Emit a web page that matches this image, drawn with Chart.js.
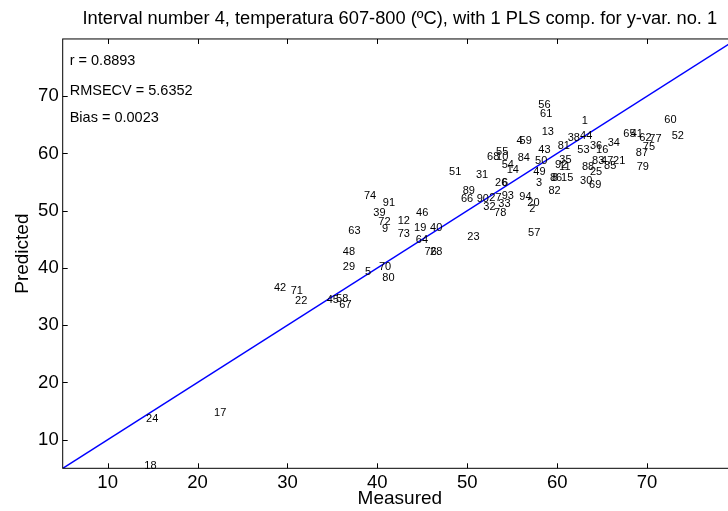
<!DOCTYPE html>
<html><head><meta charset="utf-8">
<script src="https://cdn.jsdelivr.net/npm/chart.js@4.4.1/dist/chart.umd.min.js"></script>
<style>
html,body{margin:0;padding:0;overflow:hidden;background:#fff;width:728px;height:511px}
#wrap{position:absolute;left:0;top:0;width:746px;height:511px}
</style></head><body>
<div id="wrap"><canvas id="c" width="746" height="511"></canvas></div>
<script>
const titleText = "Interval number 4, temperatura 607-800 (ºC), with 1 PLS comp. for y-var. no. 1";
const xLabel = "Measured";
const yLabel = "Predicted";
const statsText = ["r = 0.8893", "RMSECV = 5.6352", "Bias = 0.0023"];
const xTicks = [10, 20, 30, 40, 50, 60, 70];
const yTicks = [10, 20, 30, 40, 50, 60, 70];
const axisRange = [5, 80];

const sampleIds = [1,2,3,4,5,6,8,9,10,11,12,13,14,15,16,17,18,19,20,21,22,23,24,25,26,27,28,29,30,31,32,33,34,35,36,38,39,40,41,42,43,44,45,46,47,48,49,50,51,52,53,54,55,56,57,58,59,60,61,62,63,64,65,66,67,68,69,70,71,72,73,74,75,76,77,78,79,80,81,82,83,84,85,86,87,88,89,90,91,92,93,94];
const measured = [62.73,56.90,57.65,55.48,38.63,53.87,59.43,40.52,53.20,60.21,42.26,58.28,54.39,60.43,64.32,21.83,14.08,44.08,56.68,66.21,30.84,50.01,14.27,63.65,53.09,52.45,45.86,36.15,62.54,50.97,51.79,53.45,65.62,60.24,63.65,61.17,39.55,45.86,68.18,28.50,57.90,62.54,34.37,44.30,64.88,36.15,57.35,57.54,47.97,72.74,62.24,53.83,53.20,57.90,56.76,35.40,55.81,71.92,58.09,69.14,36.77,44.27,67.36,49.30,35.77,52.20,63.54,40.18,30.36,40.11,42.26,38.51,69.52,45.25,70.25,52.98,68.85,40.55,60.06,59.02,63.88,55.61,65.21,59.20,68.74,62.76,49.49,51.05,40.60,59.76,53.83,55.79];
const predicted = [65.62,50.28,54.83,62.24,39.30,54.89,55.71,46.78,59.39,57.69,48.18,63.77,57.16,55.71,60.67,14.61,5.32,46.95,51.33,58.74,34.27,45.48,13.56,56.76,54.89,52.31,42.85,40.12,55.24,56.29,50.63,51.21,61.84,58.91,61.37,62.71,49.58,46.95,63.47,36.50,60.67,62.99,34.40,49.58,58.74,42.85,56.76,58.62,56.76,63.12,60.67,58.04,60.26,68.55,46.13,34.62,62.24,65.92,66.85,62.71,46.48,44.85,63.47,52.03,33.47,59.39,54.54,40.12,36.02,48.06,45.90,52.49,61.07,42.85,62.59,49.68,57.57,38.25,61.24,53.49,58.74,59.21,57.74,55.71,60.09,57.64,53.36,52.08,51.33,58.04,52.49,52.38];

const FONT = "'Liberation Sans', Arial, Helvetica, sans-serif";

const points = measured.map((m, i) => ({x: m, y: predicted[i]}));
const refLine = axisRange.map(v => ({x: v, y: v}));

const matlabPlugin = {
  id: 'matlab',
  afterDatasetsDraw(chart) {
    const ctx = chart.ctx;
    const meta = chart.getDatasetMeta(0);
    ctx.save();
    ctx.fillStyle = '#000';
    ctx.font = "11px " + FONT;
    ctx.textAlign = 'left';
    ctx.textBaseline = 'middle';
    meta.data.forEach((el, i) => {
      ctx.fillText(String(sampleIds[i]), el.x, el.y);
    });
    ctx.restore();
  },
  afterDraw(chart) {
    const ctx = chart.ctx;
    const a = chart.chartArea;
    const xs = chart.scales.x, ys = chart.scales.y;
    ctx.save();
    ctx.strokeStyle = '#000';
    ctx.lineWidth = 1;
    ctx.strokeRect(a.left, a.top, a.right - a.left, a.bottom - a.top);
    const tl = 5;
    ctx.beginPath();
    xTicks.forEach(v => {
      const px = Math.round(xs.getPixelForValue(v)) + 0.5;
      ctx.moveTo(px, a.bottom); ctx.lineTo(px, a.bottom - tl);
      ctx.moveTo(px, a.top); ctx.lineTo(px, a.top + tl);
    });
    yTicks.forEach(v => {
      const py = Math.round(ys.getPixelForValue(v)) + 0.5;
      ctx.moveTo(a.left, py); ctx.lineTo(a.left + tl, py);
      ctx.moveTo(a.right, py); ctx.lineTo(a.right - tl, py);
    });
    ctx.stroke();
    ctx.fillStyle = '#000';
    ctx.font = "14.5px " + FONT;
    ctx.textAlign = 'left';
    ctx.textBaseline = 'middle';
    const offs = [22.5, 52, 79.5];
    statsText.forEach((t, i) => ctx.fillText(t, a.left + 7, a.top + offs[i]));
    ctx.restore();
  }
};

new Chart(document.getElementById('c'), {
  type: 'scatter',
  data: {
    datasets: [
      {data: points, pointRadius: 0, pointHoverRadius: 0, showLine: false},
      {data: refLine, showLine: true, borderColor: '#0000ff', borderWidth: 1.5, pointRadius: 0, fill: false}
    ]
  },
  options: {
    responsive: false,
    animation: false,
    events: [],
    layout: {padding: {left: 0, right: 9, top: 0, bottom: 0}},
    plugins: {
      legend: {display: false},
      tooltip: {enabled: false},
      title: {
        display: true, text: titleText, fullSize: false, color: '#000',
        font: {family: FONT, size: 18.3, weight: 'normal', lineHeight: 1.2},
        padding: {top: 7.5, bottom: 9.5}
      }
    },
    scales: {
      x: {
        type: 'linear', position: 'bottom', min: axisRange[0], max: axisRange[1],
        grid: {display: false, drawTicks: false},
        border: {display: false},
        afterBuildTicks: s => { s.ticks = xTicks.map(v => ({value: v})); },
        afterFit: s => { s.height = 42.7; },
        ticks: {color: '#000', font: {family: FONT, size: 18.5}, padding: 3.5, autoSkip: false, maxRotation: 0},
        title: {display: true, text: xLabel, color: '#000', font: {family: FONT, size: 19}, padding: {top: 0, bottom: 0.5}}
      },
      y: {
        type: 'linear', position: 'left', min: axisRange[0], max: axisRange[1],
        grid: {display: false, drawTicks: false},
        border: {display: false},
        afterBuildTicks: s => { s.ticks = yTicks.map(v => ({value: v})); },
        afterFit: s => { s.width = 62.7; },
        ticks: {color: '#000', font: {family: FONT, size: 18.5}, padding: 4, autoSkip: false},
        title: {display: true, text: yLabel, color: '#000', font: {family: FONT, size: 19}, padding: {top: 11, bottom: 0}}
      }
    }
  },
  plugins: [matlabPlugin]
});
</script>
</body></html>
